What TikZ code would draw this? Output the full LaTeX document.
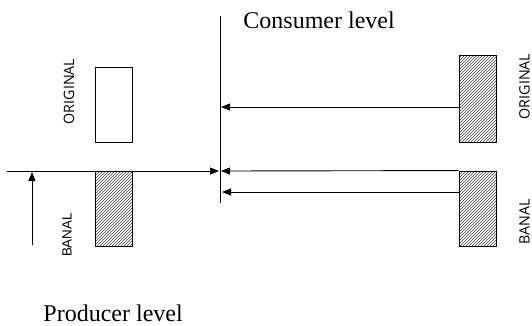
\documentclass[tikz,border=0pt]{standalone}
\usepackage{fontspec}
\setmainfont{Liberation Serif}
\newfontfamily\labfont{Open Sans}
\newfontfamily\arialfont{Liberation Sans}
\usetikzlibrary{arrows.meta,patterns}
\begin{document}
\begin{tikzpicture}[x=1pt,y=1pt,
  line width=0.9pt,
  arr/.style={-{Triangle[length=9pt,width=7pt]}},
  plainbox/.style={draw,minimum width=37pt,inner sep=0pt,line width=0.9pt},
  hatchbox/.style={plainbox,pattern=north east lines,pattern color=black!75},
  lab/.style={font=\labfont\fontsize{14.3}{16}\selectfont,rotate=90,inner sep=0pt},
  title/.style={font=\fontsize{24}{28}\selectfont,inner sep=0pt,anchor=base west}]
\useasboundingbox (0,0) rectangle (532,-325);
% boxes
\node[plainbox,minimum height=75pt] (lO) at (113.5,-104.5) {};
\node[hatchbox,minimum height=75pt] (lB) at (113.5,-208.5) {};
\node[hatchbox,minimum height=87pt] (rO) at (477.5,-98.5) {};
\node[hatchbox,minimum height=75pt] (rB) at (477.5,-208.5) {};
% labels
\node[lab] (tlO) at (69,-91.5) {ORIGINAL};
\node[lab,font=\arialfont\fontsize{13.4}{15}\selectfont] (tlB) at (67,-235) {BANAL};
\node[lab] (trO) at (524.5,-86.5) {ORIGINAL};
\node[lab] (trB) at (524.5,-221.5) {BANAL};
\node[title] (cons) at (243,-28) {Consumer level};
\node[title] (prod) at (43,-321) {Producer level};
% vertical line
\coordinate (vt) at (220,-16);
\coordinate (vb) at (220,-203);
\draw (vt) -- (vb);
\coordinate (c1) at (221,-107);
\coordinate (c2) at (221,-171);
\coordinate (c3) at (222,-192);
\coordinate (h0) at (7,-171);
\coordinate (h1) at (219,-171);
\draw[arr] (h0) -- (h1);
\draw[arr] (rO.west |- c1) -- (c1);
\draw[arr] (rB.north west) -- (c2);
\draw[arr] (rB.west |- c3) -- (c3);
% up arrow
\coordinate (u0) at (32,-245);
\coordinate (u1) at (32,-172);
\draw[arr] (u0) -- (u1);
\end{tikzpicture}
\end{document}
